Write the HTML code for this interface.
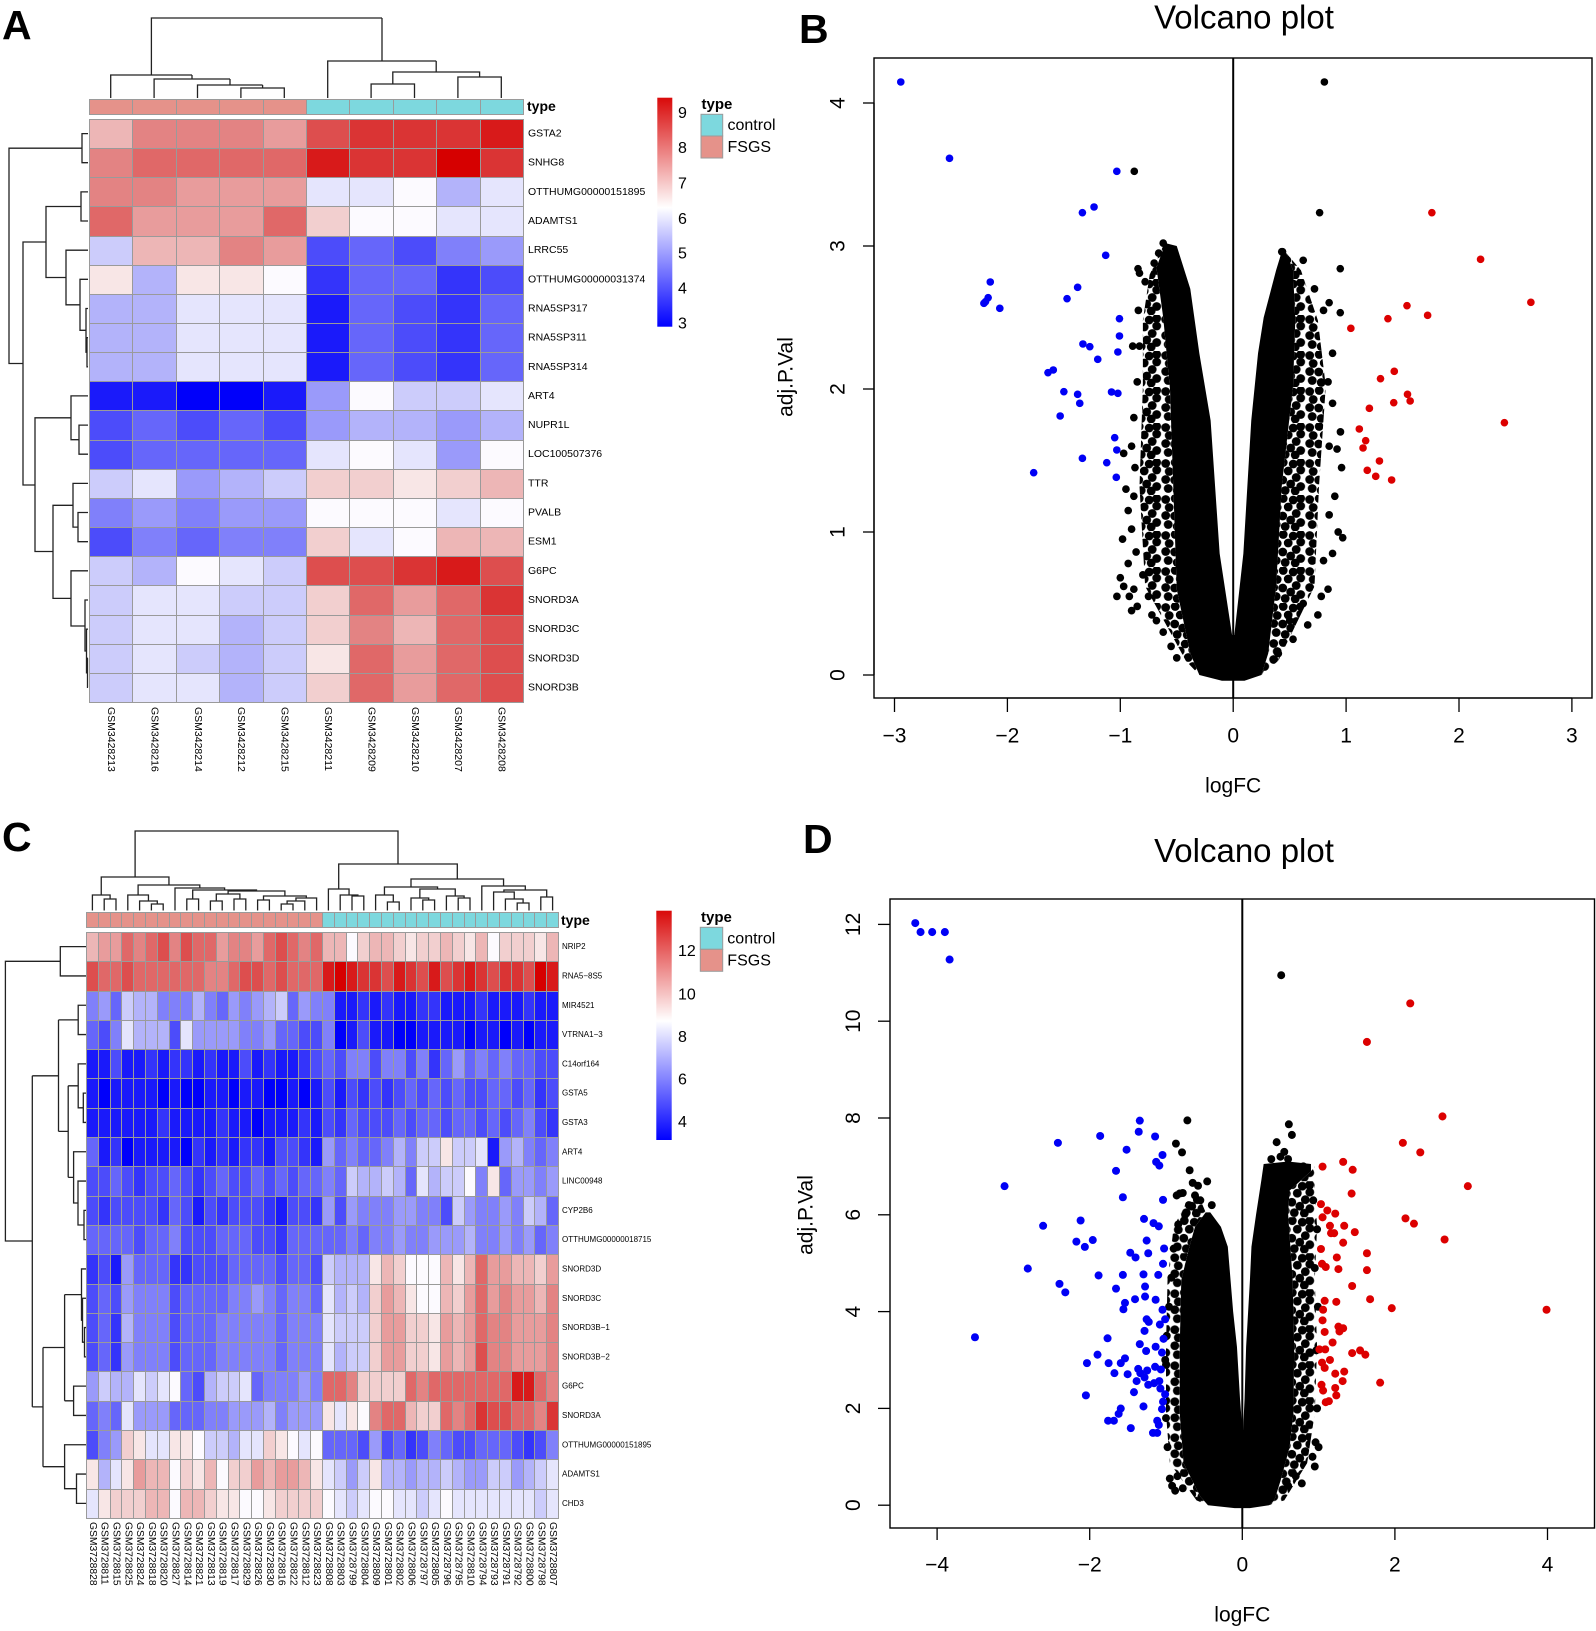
<!DOCTYPE html>
<html><head><meta charset="utf-8">
<style>
html,body{margin:0;padding:0;background:#fff;}
body{position:relative;width:1596px;height:1631px;overflow:hidden;}
svg{display:block;position:absolute;left:0;top:0;font-family:"Liberation Sans",Arial,sans-serif;}
.hm{position:absolute;display:grid;gap:1px;background:#9a9a9a;border:1px solid #9a9a9a;box-sizing:border-box;}
.hm hr{margin:0;border:0;padding:0;height:auto;width:auto;display:block;background:#fff;position:static;}
.hm [class="0"]{background:#0000fa}.hm [class="1"]{background:#1a1afa}.hm [class="2"]{background:#3434fa}
.hm [class="3"]{background:#4c4cfa}.hm [class="4"]{background:#6666fa}.hm [class="5"]{background:#8080fa}
.hm [class="6"]{background:#9a9afa}.hm [class="7"]{background:#b3b3fa}.hm [class="8"]{background:#ccccfb}
.hm [class="9"]{background:#e5e5fd}.hm [class="w"]{background:#fcfaff}.hm [class="a"]{background:#f8e6e6}
.hm [class="b"]{background:#f2cfcf}.hm [class="c"]{background:#edb6b6}.hm [class="d"]{background:#e89c9c}
.hm [class="e"]{background:#e38383}.hm [class="f"]{background:#e06868}.hm [class="g"]{background:#dd4e4e}
.hm [class="h"]{background:#da3434}.hm [class="i"]{background:#d81a1a}.hm [class="j"]{background:#d60000}
.hm [class="s"]{background:#e5928a}.hm [class="t"]{background:#7dd8de}
</style></head><body>
<svg width="1596" height="1631" viewBox="0 0 1596 1631" xmlns="http://www.w3.org/2000/svg">
<defs>
<linearGradient id="gb" x1="0" y1="0" x2="0" y2="1">
<stop offset="0" stop-color="#d90a0a"/><stop offset="0.48" stop-color="#ffffff"/><stop offset="1" stop-color="#0000ff"/>
</linearGradient>
<g id="tile" fill="#000"><circle cx="4.5" cy="4.5" r="4.4"/><circle cx="14" cy="3.5" r="4.4"/><circle cx="24" cy="5" r="4.4"/><circle cx="31.5" cy="11" r="4.4"/><circle cx="8" cy="12.5" r="4.4"/><circle cx="19" cy="12" r="4.4"/><circle cx="27" cy="18.5" r="4.4"/><circle cx="4.5" cy="20.5" r="4.4"/><circle cx="13.5" cy="21" r="4.4"/><circle cx="21.5" cy="25" r="4.4"/><circle cx="31.5" cy="27.5" r="4.4"/><circle cx="7" cy="29.5" r="4.4"/><circle cx="16" cy="31.5" r="4.4"/><circle cx="26" cy="32" r="4.4"/><circle cx="31.5" cy="3.5" r="4.4"/></g>
<pattern id="pB" patternUnits="userSpaceOnUse" width="36" height="36" patternTransform="scale(0.0088574,-0.0069930)">
<use href="#tile"/>
</pattern>
<pattern id="pD" patternUnits="userSpaceOnUse" width="36" height="36" patternTransform="scale(0.0131062,-0.0206612)">
<use href="#tile"/>
</pattern>
</defs>
<rect width="1596" height="1631" fill="#fff"/>

<g font-weight="bold" font-size="41" fill="#000">
<text x="2" y="39">A</text>
<text x="799" y="43">B</text>
<text x="2" y="851">C</text>
<text x="803" y="853">D</text>
</g>

<!-- ============ PANEL A ============ -->
<g fill="none" stroke="#222" stroke-width="1.3">
<path d="M240.9 98V88H284.3V98M262.6 88V85M197.5 98V85H262.6M230 85V79M154.1 98V79H230M192 79V75M110.7 98V75H192M151.4 75V18H382M371.1 98V84H414.5V98M392.8 84V72H479.6V77M457.9 98V77H501.3V98M436.2 72V61M327.7 98V61H436.2M382 61V18"/>
<path d="M88 133.6H82V162.7H88M82 148.2H9V363.5H23M88 191.9H81V221H88M81 206.5H46V277.5H66M88 250.2H66V304.8H80M88 279.3H80V330.3H86M88 308.5H86V352.2H87M88 337.6H87V366.8H88M46 242H23V485H35M71 417.8H35V551.5H53M88 395.9H71V439.7H79M88 425.1H79V454.2H88M73 505.3H53V598.4H71M88 483.4H73V527.1H78M88 512.5H78V541.7H88M88 570.8H71V626H85M88 600H85V651H86.5M88 629.1H86.5V672.9H87.5M88 658.3H87.5V687.4H88"/>
</g>
<text x="527" y="111" font-size="14" font-weight="bold">type</text>
<g font-size="10.5" dominant-baseline="central">
<text x="528" y="133.6">GSTA2</text>
<text x="528" y="162.7">SNHG8</text>
<text x="528" y="191.9">OTTHUMG00000151895</text>
<text x="528" y="221">ADAMTS1</text>
<text x="528" y="250.2">LRRC55</text>
<text x="528" y="279.3">OTTHUMG00000031374</text>
<text x="528" y="308.5">RNA5SP317</text>
<text x="528" y="337.6">RNA5SP311</text>
<text x="528" y="366.8">RNA5SP314</text>
<text x="528" y="395.9">ART4</text>
<text x="528" y="425.1">NUPR1L</text>
<text x="528" y="454.2">LOC100507376</text>
<text x="528" y="483.4">TTR</text>
<text x="528" y="512.5">PVALB</text>
<text x="528" y="541.7">ESM1</text>
<text x="528" y="570.8">G6PC</text>
<text x="528" y="600">SNORD3A</text>
<text x="528" y="629.1">SNORD3C</text>
<text x="528" y="658.3">SNORD3D</text>
<text x="528" y="687.4">SNORD3B</text>
</g>
<g font-size="10.5" dominant-baseline="central">
<text transform="translate(111,707) rotate(90)">GSM3428213</text>
<text transform="translate(154.4,707) rotate(90)">GSM3428216</text>
<text transform="translate(197.8,707) rotate(90)">GSM3428214</text>
<text transform="translate(241.2,707) rotate(90)">GSM3428212</text>
<text transform="translate(284.6,707) rotate(90)">GSM3428215</text>
<text transform="translate(328,707) rotate(90)">GSM3428211</text>
<text transform="translate(371.4,707) rotate(90)">GSM3428209</text>
<text transform="translate(414.8,707) rotate(90)">GSM3428210</text>
<text transform="translate(458.2,707) rotate(90)">GSM3428207</text>
<text transform="translate(501.6,707) rotate(90)">GSM3428208</text>
</g>
<rect x="657.3" y="97.7" width="15" height="229" fill="url(#gb)"/>
<g font-size="16" dominant-baseline="central">
<text x="678" y="113.3">9</text><text x="678" y="148.3">8</text><text x="678" y="184">7</text>
<text x="678" y="219.3">6</text><text x="678" y="254">5</text><text x="678" y="289">4</text><text x="678" y="324">3</text>
</g>
<text x="701.5" y="109" font-size="15" font-weight="bold">type</text>
<rect x="701" y="114.3" width="21.7" height="21.7" fill="#7dd8de" stroke="#9a9a9a"/>
<rect x="701" y="136" width="21.7" height="22" fill="#e5928a" stroke="#9a9a9a"/>
<g font-size="16" dominant-baseline="central">
<text x="727.5" y="125.5">control</text>
<text x="727.5" y="147.5">FSGS</text>
</g>

<!-- ============ PANEL B ============ -->
<text x="1244" y="28.5" font-size="33" text-anchor="middle">Volcano plot</text>
<g transform="matrix(112.9,0,0,-143,1233.2,675)" fill="#000">
<polygon fill="url(#pB)" points="-0.3,0 -0.42,0.1 -0.78,0.62 -0.83,1.32 -0.8,2.02 -0.8,2.48 -0.74,2.8 -0.62,3.0 -0.6,3.0 -0.68,2.85 -0.62,2.5 -0.56,2.0 -0.53,1.3 -0.5,0.6 -0.38,0.15 -0.3,0"/>
<polygon fill="url(#pB)" points="0.25,0 0.4,0.1 0.72,0.62 0.76,1.32 0.82,2.02 0.75,2.48 0.6,2.83 0.47,2.95 0.53,2.83 0.55,2.48 0.53,2.02 0.43,1.32 0.38,0.62 0.31,0.15 0.25,0"/>
<polygon points="-0.3,0 -0.38,0.15 -0.5,0.6 -0.53,1.3 -0.56,2.0 -0.62,2.5 -0.68,2.85 -0.6,3.02 -0.5,3.0 -0.38,2.7 -0.3,2.25 -0.2,1.78 -0.12,0.85 -0.01,0.28 0.01,0.28 0.09,0.85 0.16,1.78 0.22,2.25 0.27,2.5 0.38,2.83 0.43,2.96 0.47,2.95 0.53,2.83 0.55,2.48 0.53,2.02 0.43,1.32 0.38,0.62 0.31,0.15 0.25,0 0.1,-0.04 -0.1,-0.04"/>
<g>
<ellipse cx="-0.97" cy="0.62" rx=".034" ry=".027"/><ellipse cx="-0.92" cy="0.55" rx=".034" ry=".027"/><ellipse cx="-0.88" cy="0.60" rx=".034" ry=".027"/><ellipse cx="-0.85" cy="0.48" rx=".034" ry=".027"/><ellipse cx="-0.80" cy="0.70" rx=".034" ry=".027"/><ellipse cx="-0.75" cy="0.55" rx=".034" ry=".027"/><ellipse cx="-0.72" cy="0.42" rx=".034" ry=".027"/><ellipse cx="-0.68" cy="0.38" rx=".034" ry=".027"/><ellipse cx="-0.93" cy="0.78" rx=".034" ry=".027"/><ellipse cx="-0.86" cy="0.86" rx=".034" ry=".027"/><ellipse cx="-0.98" cy="0.95" rx=".034" ry=".027"/><ellipse cx="-0.90" cy="1.02" rx=".034" ry=".027"/><ellipse cx="-0.95" cy="1.30" rx=".034" ry=".027"/><ellipse cx="-0.88" cy="1.25" rx=".034" ry=".027"/><ellipse cx="-0.97" cy="1.55" rx=".034" ry=".027"/><ellipse cx="-0.90" cy="1.60" rx=".034" ry=".027"/><ellipse cx="-0.88" cy="1.80" rx=".034" ry=".027"/><ellipse cx="-0.85" cy="2.05" rx=".034" ry=".027"/><ellipse cx="-0.83" cy="2.30" rx=".034" ry=".027"/><ellipse cx="-0.84" cy="2.55" rx=".034" ry=".027"/><ellipse cx="-0.78" cy="2.75" rx=".034" ry=".027"/><ellipse cx="-0.62" cy="0.30" rx=".034" ry=".027"/><ellipse cx="-0.55" cy="0.20" rx=".034" ry=".027"/><ellipse cx="-0.50" cy="0.12" rx=".034" ry=".027"/><ellipse cx="-1.0" cy="0.68" rx=".034" ry=".027"/><ellipse cx="-0.93" cy="1.15" rx=".034" ry=".027"/><ellipse cx="-0.87" cy="1.45" rx=".034" ry=".027"/><ellipse cx="-0.62" cy="3.02" rx=".034" ry=".027"/><ellipse cx="-0.56" cy="2.98" rx=".034" ry=".027"/><ellipse cx="-0.66" cy="2.95" rx=".034" ry=".027"/><ellipse cx="-0.70" cy="2.88" rx=".034" ry=".027"/><ellipse cx="-0.83" cy="2.81" rx=".034" ry=".027"/><ellipse cx="-0.89" cy="2.3" rx=".034" ry=".027"/><ellipse cx="-1.03" cy="0.55" rx=".034" ry=".027"/><ellipse cx="-0.9" cy="0.45" rx=".034" ry=".027"/>
<ellipse cx="0.50" cy="0.38" rx=".034" ry=".027"/><ellipse cx="0.62" cy="0.50" rx=".034" ry=".027"/><ellipse cx="0.78" cy="0.55" rx=".034" ry=".027"/><ellipse cx="0.84" cy="0.60" rx=".034" ry=".027"/><ellipse cx="0.80" cy="0.80" rx=".034" ry=".027"/><ellipse cx="0.88" cy="0.85" rx=".034" ry=".027"/><ellipse cx="0.85" cy="1.12" rx=".034" ry=".027"/><ellipse cx="0.93" cy="1.00" rx=".034" ry=".027"/><ellipse cx="0.90" cy="1.25" rx=".034" ry=".027"/><ellipse cx="0.96" cy="1.45" rx=".034" ry=".027"/><ellipse cx="0.85" cy="1.60" rx=".034" ry=".027"/><ellipse cx="0.95" cy="1.70" rx=".034" ry=".027"/><ellipse cx="0.88" cy="1.90" rx=".034" ry=".027"/><ellipse cx="0.88" cy="2.25" rx=".034" ry=".027"/><ellipse cx="0.80" cy="2.55" rx=".034" ry=".027"/><ellipse cx="0.72" cy="2.70" rx=".034" ry=".027"/><ellipse cx="0.97" cy="0.96" rx=".034" ry=".027"/><ellipse cx="0.92" cy="1.58" rx=".034" ry=".027"/><ellipse cx="0.53" cy="0.25" rx=".034" ry=".027"/><ellipse cx="0.40" cy="0.15" rx=".034" ry=".027"/><ellipse cx="0.43" cy="2.96" rx=".034" ry=".027"/><ellipse cx="0.48" cy="2.90" rx=".034" ry=".027"/><ellipse cx="0.66" cy="0.35" rx=".034" ry=".027"/><ellipse cx="0.75" cy="0.42" rx=".034" ry=".027"/><ellipse cx="0.84" cy="2.05" rx=".034" ry=".027"/><ellipse cx="0.62" cy="2.9" rx=".034" ry=".027"/>
</g>
</g>
<g transform="translate(770,0) scale(0.52949,0.33333)">
<g fill="#000">
<ellipse cx="688" cy="514" rx="7.2" ry="11.4"/><ellipse cx="1047" cy="246" rx="7.2" ry="11.4"/><ellipse cx="1038" cy="638" rx="7.2" ry="11.4"/><ellipse cx="968" cy="755" rx="7.2" ry="11.4"/><ellipse cx="1077" cy="806" rx="7.2" ry="11.4"/><ellipse cx="695" cy="806" rx="7.2" ry="11.4"/><ellipse cx="1077" cy="938" rx="7.2" ry="11.4"/><ellipse cx="1056" cy="908" rx="7.2" ry="11.4"/>
</g>
<g fill="#0000f5">
<ellipse cx="247" cy="246" rx="7.2" ry="11.4"/><ellipse cx="339" cy="475" rx="7.2" ry="11.4"/><ellipse cx="655" cy="514" rx="7.2" ry="11.4"/><ellipse cx="612" cy="621" rx="7.2" ry="11.4"/><ellipse cx="590" cy="638" rx="7.2" ry="11.4"/><ellipse cx="634" cy="766" rx="7.2" ry="11.4"/><ellipse cx="416" cy="846" rx="7.2" ry="11.4"/><ellipse cx="412" cy="893" rx="7.2" ry="11.4"/><ellipse cx="407" cy="905" rx="7.2" ry="11.4"/><ellipse cx="404" cy="910" rx="7.2" ry="11.4"/><ellipse cx="434" cy="925" rx="7.2" ry="11.4"/><ellipse cx="581" cy="862" rx="7.2" ry="11.4"/><ellipse cx="561" cy="896" rx="7.2" ry="11.4"/><ellipse cx="660" cy="956" rx="7.2" ry="11.4"/><ellipse cx="660" cy="1008" rx="7.2" ry="11.4"/><ellipse cx="591" cy="1032" rx="7.2" ry="11.4"/><ellipse cx="604" cy="1040" rx="7.2" ry="11.4"/><ellipse cx="619" cy="1078" rx="7.2" ry="11.4"/><ellipse cx="657" cy="1056" rx="7.2" ry="11.4"/><ellipse cx="525" cy="1118" rx="7.2" ry="11.4"/><ellipse cx="535" cy="1110" rx="7.2" ry="11.4"/><ellipse cx="555" cy="1175" rx="7.2" ry="11.4"/><ellipse cx="581" cy="1183" rx="7.2" ry="11.4"/><ellipse cx="645" cy="1176" rx="7.2" ry="11.4"/><ellipse cx="657" cy="1180" rx="7.2" ry="11.4"/>
<ellipse cx="585" cy="1210" rx="7.2" ry="11.4"/><ellipse cx="548" cy="1248" rx="7.2" ry="11.4"/><ellipse cx="651" cy="1313" rx="7.2" ry="11.4"/><ellipse cx="655" cy="1350" rx="7.2" ry="11.4"/><ellipse cx="590" cy="1375" rx="7.2" ry="11.4"/><ellipse cx="636" cy="1388" rx="7.2" ry="11.4"/><ellipse cx="654" cy="1432" rx="7.2" ry="11.4"/><ellipse cx="498" cy="1418" rx="7.2" ry="11.4"/>
</g>
<g fill="#dc0000">
<ellipse cx="1250" cy="638" rx="7.2" ry="11.4"/><ellipse cx="1342" cy="778" rx="7.2" ry="11.4"/><ellipse cx="1437" cy="907" rx="7.2" ry="11.4"/><ellipse cx="1203" cy="917" rx="7.2" ry="11.4"/><ellipse cx="1242" cy="946" rx="7.2" ry="11.4"/><ellipse cx="1167" cy="956" rx="7.2" ry="11.4"/><ellipse cx="1097" cy="985" rx="7.2" ry="11.4"/><ellipse cx="1179" cy="1114" rx="7.2" ry="11.4"/><ellipse cx="1153" cy="1136" rx="7.2" ry="11.4"/><ellipse cx="1204" cy="1183" rx="7.2" ry="11.4"/>
<ellipse cx="1209" cy="1203" rx="7.2" ry="11.4"/><ellipse cx="1178" cy="1208" rx="7.2" ry="11.4"/><ellipse cx="1132" cy="1225" rx="7.2" ry="11.4"/><ellipse cx="1387" cy="1268" rx="7.2" ry="11.4"/><ellipse cx="1113" cy="1287" rx="7.2" ry="11.4"/><ellipse cx="1125" cy="1322" rx="7.2" ry="11.4"/><ellipse cx="1120" cy="1344" rx="7.2" ry="11.4"/><ellipse cx="1151" cy="1383" rx="7.2" ry="11.4"/><ellipse cx="1128" cy="1411" rx="7.2" ry="11.4"/><ellipse cx="1144" cy="1429" rx="7.2" ry="11.4"/><ellipse cx="1174" cy="1440" rx="7.2" ry="11.4"/>
</g>
</g>
<line x1="1233.2" y1="58" x2="1233.2" y2="698" stroke="#000" stroke-width="2"/>
<rect x="874" y="58" width="718" height="640" fill="none" stroke="#000" stroke-width="1.4"/>
<g stroke="#000" stroke-width="1.3">
<line x1="894.5" y1="698" x2="1571.9" y2="698"/>
<line x1="894.5" y1="698" x2="894.5" y2="712"/><line x1="1007.4" y1="698" x2="1007.4" y2="712"/>
<line x1="1120.3" y1="698" x2="1120.3" y2="712"/><line x1="1233.2" y1="698" x2="1233.2" y2="712"/>
<line x1="1346.1" y1="698" x2="1346.1" y2="712"/><line x1="1459" y1="698" x2="1459" y2="712"/>
<line x1="1571.9" y1="698" x2="1571.9" y2="712"/>
<line x1="874" y1="103" x2="874" y2="675"/>
<line x1="863" y1="675" x2="874" y2="675"/><line x1="863" y1="532" x2="874" y2="532"/>
<line x1="863" y1="389" x2="874" y2="389"/><line x1="863" y1="246" x2="874" y2="246"/>
<line x1="863" y1="103" x2="874" y2="103"/>
</g>
<g font-size="21" text-anchor="middle" dominant-baseline="central">
<text x="894.5" y="736">−3</text><text x="1007.4" y="736">−2</text><text x="1120.3" y="736">−1</text>
<text x="1233.2" y="736">0</text><text x="1346.1" y="736">1</text><text x="1459" y="736">2</text><text x="1571.9" y="736">3</text>
<text transform="translate(838,675) rotate(-90)">0</text>
<text transform="translate(838,532) rotate(-90)">1</text>
<text transform="translate(838,389) rotate(-90)">2</text>
<text transform="translate(838,246) rotate(-90)">3</text>
<text transform="translate(838,103) rotate(-90)">4</text>
<text x="1233.2" y="786">logFC</text>
<text transform="translate(786,377) rotate(-90)">adj.P.Val</text>
</g>

<!-- ============ PANEL C ============ -->
<g fill="none" stroke="#222" stroke-width="1.3">
<path d="M104.2 910.5V899H116V910.5M92.4 910.5V895H110.1V899M151.4 910.5V904H163.2V910.5M139.6 910.5V901H157.3V904M127.8 910.5V895H148.45V901M186.8 910.5V899H198.6V910.5M210.4 910.5V901H222.2V910.5M234 910.5V899H245.8V910.5M216.3 901V894H239.9V899M257.6 910.5V900H269.4V910.5M281.2 910.5V904H293V910.5M287.1 904V901H304.8V910.5M295.95 901V898H316.6V910.5M263.5 900V896H306.3V898M228.1 894V891H284.9V896M192.7 899V890H256.5V891M175 910.5V888H224.6V890M138.1 895V885H199.8V888M101.25 895V877H168.95V885"/>
<path d="M352 910.5V896H363.8V910.5M340.2 910.5V895H357.9V896M328.4 910.5V889H349.05V895M387.4 910.5V902H399.2V910.5M375.6 910.5V895H393.3V902M422.8 910.5V900H434.6V910.5M411 910.5V898H428.7V900M458.2 910.5V898H470V910.5M446.4 910.5V896H464.1V898M419.85 898V889H455.25V896M384.45 895V887H437.55V889M517.2 910.5V903H529V910.5M505.4 910.5V899H523.1V903M493.6 910.5V892H514.25V899M540.8 910.5V897H552.6V910.5M503.9 892V890H546.7V897M481.8 910.5V886H525.3V890M411 887V879H503.55V886M338.7 889V864H457.3V879M135.1 877V831H398V864"/>
<path d="M86 946.65H60.3V975.95H86M60.3 961.3H5.4V1241H32.3M32.3 1075.8V1406.9M32.3 1075.8H58.5M58.5 1019.9V1131.4M86 1005.25H78.2V1034.55H86M78.2 1019.9H58.5M68.2 1131.4H58.5M68.2 1085.8V1177.4M86 1063.85H78.2V1107.8H83.3M86 1093.15H83.3V1122.45H86M78.2 1085.8H68.2M86 1151.75H73.6V1203H78M86 1181.05H78V1225H84M86 1210.35H84V1239.65H86M73.6 1177.4H68.2M43 1406.9H32.3M43 1347.5V1466.7M64.6 1347.5H43M64.6 1294.6V1400.8M86 1268.95H81.5V1320.2H82.5M86 1298.25H82.5V1342.2H84.5M86 1327.55H84.5V1356.85H86M81.5 1294.6H64.6M86 1386.15H73.6V1415.45H86M73.6 1400.8H64.6M86 1444.75H64.6V1488.7H76.5M86 1474.05H76.5V1503.35H86M64.6 1466.7H43"/>
</g>
<text x="561" y="925" font-size="14" font-weight="bold">type</text>
<g font-size="8" dominant-baseline="central">
<text x="562" y="946.65">NRIP2</text>
<text x="562" y="975.95">RNA5−8S5</text>
<text x="562" y="1005.25">MIR4521</text>
<text x="562" y="1034.55">VTRNA1−3</text>
<text x="562" y="1063.85">C14orf164</text>
<text x="562" y="1093.15">GSTA5</text>
<text x="562" y="1122.45">GSTA3</text>
<text x="562" y="1151.75">ART4</text>
<text x="562" y="1181.05">LINC00948</text>
<text x="562" y="1210.35">CYP2B6</text>
<text x="562" y="1239.65">OTTHUMG00000018715</text>
<text x="562" y="1268.95">SNORD3D</text>
<text x="562" y="1298.25">SNORD3C</text>
<text x="562" y="1327.55">SNORD3B−1</text>
<text x="562" y="1356.85">SNORD3B−2</text>
<text x="562" y="1386.15">G6PC</text>
<text x="562" y="1415.45">SNORD3A</text>
<text x="562" y="1444.75">OTTHUMG00000151895</text>
<text x="562" y="1474.05">ADAMTS1</text>
<text x="562" y="1503.35">CHD3</text>
</g>
<g font-size="10.3" dominant-baseline="central">
<text transform="translate(92.4,1522) rotate(90)">GSM3728828</text>
<text transform="translate(104.2,1522) rotate(90)">GSM3728811</text>
<text transform="translate(116,1522) rotate(90)">GSM3728815</text>
<text transform="translate(127.8,1522) rotate(90)">GSM3728825</text>
<text transform="translate(139.6,1522) rotate(90)">GSM3728824</text>
<text transform="translate(151.4,1522) rotate(90)">GSM3728818</text>
<text transform="translate(163.2,1522) rotate(90)">GSM3728820</text>
<text transform="translate(175,1522) rotate(90)">GSM3728827</text>
<text transform="translate(186.8,1522) rotate(90)">GSM3728814</text>
<text transform="translate(198.6,1522) rotate(90)">GSM3728821</text>
<text transform="translate(210.4,1522) rotate(90)">GSM3728813</text>
<text transform="translate(222.2,1522) rotate(90)">GSM3728819</text>
<text transform="translate(234,1522) rotate(90)">GSM3728817</text>
<text transform="translate(245.8,1522) rotate(90)">GSM3728829</text>
<text transform="translate(257.6,1522) rotate(90)">GSM3728826</text>
<text transform="translate(269.4,1522) rotate(90)">GSM3728830</text>
<text transform="translate(281.2,1522) rotate(90)">GSM3728816</text>
<text transform="translate(293,1522) rotate(90)">GSM3728822</text>
<text transform="translate(304.8,1522) rotate(90)">GSM3728812</text>
<text transform="translate(316.6,1522) rotate(90)">GSM3728823</text>
<text transform="translate(328.4,1522) rotate(90)">GSM3728808</text>
<text transform="translate(340.2,1522) rotate(90)">GSM3728803</text>
<text transform="translate(352,1522) rotate(90)">GSM3728799</text>
<text transform="translate(363.8,1522) rotate(90)">GSM3728804</text>
<text transform="translate(375.6,1522) rotate(90)">GSM3728809</text>
<text transform="translate(387.4,1522) rotate(90)">GSM3728801</text>
<text transform="translate(399.2,1522) rotate(90)">GSM3728802</text>
<text transform="translate(411,1522) rotate(90)">GSM3728806</text>
<text transform="translate(422.8,1522) rotate(90)">GSM3728797</text>
<text transform="translate(434.6,1522) rotate(90)">GSM3728805</text>
<text transform="translate(446.4,1522) rotate(90)">GSM3728796</text>
<text transform="translate(458.2,1522) rotate(90)">GSM3728795</text>
<text transform="translate(470,1522) rotate(90)">GSM3728810</text>
<text transform="translate(481.8,1522) rotate(90)">GSM3728794</text>
<text transform="translate(493.6,1522) rotate(90)">GSM3728793</text>
<text transform="translate(505.4,1522) rotate(90)">GSM3728791</text>
<text transform="translate(517.2,1522) rotate(90)">GSM3728792</text>
<text transform="translate(529,1522) rotate(90)">GSM3728800</text>
<text transform="translate(540.8,1522) rotate(90)">GSM3728798</text>
<text transform="translate(552.6,1522) rotate(90)">GSM3728807</text>
</g>
<rect x="656.3" y="910.7" width="15.4" height="229.3" fill="url(#gb)"/>
<g font-size="16" dominant-baseline="central">
<text x="678" y="951.7">12</text><text x="678" y="995">10</text><text x="678" y="1037.3">8</text>
<text x="678" y="1080">6</text><text x="678" y="1122.7">4</text>
</g>
<text x="701" y="922" font-size="15" font-weight="bold">type</text>
<rect x="700.3" y="927.3" width="22.4" height="22" fill="#7dd8de" stroke="#9a9a9a"/>
<rect x="700.3" y="949.3" width="22.4" height="22" fill="#e5928a" stroke="#9a9a9a"/>
<g font-size="16" dominant-baseline="central">
<text x="727.3" y="939">control</text>
<text x="727.3" y="961">FSGS</text>
</g>

<!-- ============ PANEL D ============ -->
<text x="1244" y="862" font-size="33" text-anchor="middle">Volcano plot</text>
<g transform="matrix(76.3,0,0,-48.4,1242.3,1505.2)" fill="#000">
<polygon fill="url(#pD)" points="-0.45,0 -0.6,0.1 -0.95,0.87 -1.0,1.9 -1.0,3.27 -0.98,4.65 -0.9,5.75 -0.75,6.2 -0.6,6.5 -0.48,6.05 -0.62,5.75 -0.7,5.3 -0.8,4.65 -0.82,3.27 -0.82,1.9 -0.77,0.87 -0.55,0.18 -0.45,0"/>
<polygon fill="url(#pD)" points="0.35,0 0.55,0.1 0.85,0.87 0.95,1.9 0.98,3.27 0.95,4.65 0.98,5.75 0.95,6.5 0.95,7.0 0.9,6.9 0.62,6.5 0.6,6.03 0.66,4.65 0.68,3.27 0.67,1.9 0.62,1.2 0.5,0.5 0.42,0.1 0.35,0"/>
<polygon points="-0.45,0 -0.55,0.18 -0.77,0.87 -0.82,1.9 -0.82,3.27 -0.8,4.65 -0.7,5.3 -0.62,5.75 -0.48,6.05 -0.42,6.05 -0.28,5.75 -0.19,5.34 -0.12,4.0 -0.07,3.27 -0.03,2.2 0,1.55 0.01,1.55 0.03,2.2 0.05,3.27 0.1,4.65 0.12,5.34 0.18,6.0 0.25,6.72 0.28,7.05 0.6,7.1 0.9,7.05 0.9,6.9 0.62,6.5 0.6,6.03 0.66,4.65 0.68,3.27 0.67,1.9 0.62,1.2 0.5,0.5 0.42,0.1 0.35,0 0.1,-0.06 -0.1,-0.06"/>
<g>
<ellipse cx="-0.92" cy="0.4" rx=".052" ry=".083"/><ellipse cx="-0.85" cy="0.6" rx=".052" ry=".083"/><ellipse cx="-0.78" cy="0.35" rx=".052" ry=".083"/><ellipse cx="-0.98" cy="1.2" rx=".052" ry=".083"/><ellipse cx="-1.0" cy="1.8" rx=".052" ry=".083"/><ellipse cx="-1.0" cy="2.9" rx=".052" ry=".083"/><ellipse cx="-0.99" cy="3.5" rx=".052" ry=".083"/><ellipse cx="-0.96" cy="4.1" rx=".052" ry=".083"/><ellipse cx="-0.93" cy="4.7" rx=".052" ry=".083"/><ellipse cx="-0.9" cy="5.3" rx=".052" ry=".083"/><ellipse cx="-0.84" cy="5.8" rx=".052" ry=".083"/><ellipse cx="-0.75" cy="6.0" rx=".052" ry=".083"/><ellipse cx="-0.7" cy="6.2" rx=".052" ry=".083"/><ellipse cx="-0.62" cy="6.4" rx=".052" ry=".083"/><ellipse cx="-0.58" cy="6.6" rx=".052" ry=".083"/><ellipse cx="-1.01" cy="3.0" rx=".052" ry=".083"/><ellipse cx="-0.78" cy="6.45" rx=".052" ry=".083"/><ellipse cx="-0.86" cy="6.4" rx=".052" ry=".083"/><ellipse cx="-0.72" cy="7.95" rx=".052" ry=".083"/><ellipse cx="-0.87" cy="7.47" rx=".052" ry=".083"/><ellipse cx="-0.79" cy="7.29" rx=".052" ry=".083"/><ellipse cx="-0.69" cy="6.92" rx=".052" ry=".083"/><ellipse cx="-0.65" cy="6.66" rx=".052" ry=".083"/><ellipse cx="-0.46" cy="6.69" rx=".052" ry=".083"/><ellipse cx="-0.82" cy="6.44" rx=".052" ry=".083"/><ellipse cx="-0.55" cy="6.3" rx=".052" ry=".083"/><ellipse cx="-0.4" cy="6.2" rx=".052" ry=".083"/><ellipse cx="-0.95" cy="0.55" rx=".052" ry=".083"/><ellipse cx="-0.88" cy="0.3" rx=".052" ry=".083"/>
<ellipse cx="0.6" cy="0.4" rx=".052" ry=".083"/><ellipse cx="0.7" cy="0.6" rx=".052" ry=".083"/><ellipse cx="0.78" cy="0.45" rx=".052" ry=".083"/><ellipse cx="0.92" cy="1.0" rx=".052" ry=".083"/><ellipse cx="0.96" cy="1.3" rx=".052" ry=".083"/><ellipse cx="0.98" cy="2.0" rx=".052" ry=".083"/><ellipse cx="0.97" cy="3.2" rx=".052" ry=".083"/><ellipse cx="0.99" cy="4.1" rx=".052" ry=".083"/><ellipse cx="0.95" cy="4.9" rx=".052" ry=".083"/><ellipse cx="0.98" cy="5.7" rx=".052" ry=".083"/><ellipse cx="0.93" cy="6.3" rx=".052" ry=".083"/><ellipse cx="0.88" cy="6.6" rx=".052" ry=".083"/><ellipse cx="0.8" cy="7.0" rx=".052" ry=".083"/><ellipse cx="0.6" cy="7.15" rx=".052" ry=".083"/><ellipse cx="0.55" cy="7.3" rx=".052" ry=".083"/><ellipse cx="0.45" cy="7.5" rx=".052" ry=".083"/><ellipse cx="0.61" cy="7.87" rx=".052" ry=".083"/><ellipse cx="0.65" cy="7.65" rx=".052" ry=".083"/><ellipse cx="0.5" cy="7.2" rx=".052" ry=".083"/><ellipse cx="0.38" cy="7.15" rx=".052" ry=".083"/><ellipse cx="0.51" cy="10.95" rx=".052" ry=".083"/><ellipse cx="1.0" cy="1.2" rx=".052" ry=".083"/><ellipse cx="0.95" cy="0.8" rx=".052" ry=".083"/>
</g>
</g>
<g transform="translate(770,800) scale(0.52826)">
<g fill="#0000f5">
<circle cx="275" cy="233" r="7.6"/><circle cx="285" cy="250" r="7.6"/><circle cx="307" cy="250" r="7.6"/><circle cx="331" cy="250" r="7.6"/><circle cx="340" cy="302" r="7.6"/><circle cx="444" cy="731" r="7.6"/><circle cx="388" cy="1017" r="7.6"/><circle cx="545" cy="649" r="7.6"/><circle cx="517" cy="806" r="7.6"/><circle cx="488" cy="887" r="7.6"/><circle cx="548" cy="916" r="7.6"/><circle cx="559" cy="932" r="7.6"/><circle cx="588" cy="796" r="7.6"/><circle cx="580" cy="836" r="7.6"/><circle cx="596" cy="846" r="7.6"/><circle cx="611" cy="833" r="7.6"/><circle cx="625" cy="636" r="7.6"/><circle cx="622" cy="900" r="7.6"/><circle cx="655" cy="702" r="7.6"/><circle cx="675" cy="662" r="7.6"/><circle cx="668" cy="752" r="7.6"/><circle cx="682" cy="857" r="7.6"/><circle cx="692" cy="866" r="7.6"/><circle cx="668" cy="899" r="7.6"/><circle cx="655" cy="925" r="7.6"/><circle cx="672" cy="952" r="7.6"/><circle cx="669" cy="964" r="7.6"/><circle cx="691" cy="945" r="7.6"/><circle cx="700" cy="607" r="7.6"/><circle cx="698" cy="628" r="7.6"/><circle cx="729" cy="637" r="7.6"/><circle cx="743" cy="672" r="7.6"/><circle cx="731" cy="685" r="7.6"/><circle cx="737" cy="692" r="7.6"/><circle cx="744" cy="757" r="7.6"/><circle cx="708" cy="793" r="7.6"/><circle cx="726" cy="801" r="7.6"/><circle cx="736" cy="807" r="7.6"/><circle cx="713" cy="834" r="7.6"/><circle cx="746" cy="849" r="7.6"/><circle cx="744" cy="878" r="7.6"/><circle cx="716" cy="858" r="7.6"/><circle cx="707" cy="898" r="7.6"/><circle cx="735" cy="899" r="7.6"/><circle cx="710" cy="921" r="7.6"/><circle cx="710" cy="940" r="7.6"/><circle cx="730" cy="946" r="7.6"/><circle cx="743" cy="965" r="7.6"/><circle cx="748" cy="983" r="7.6"/><circle cx="713" cy="983" r="7.6"/><circle cx="717" cy="988" r="7.6"/><circle cx="709" cy="1005" r="7.6"/><circle cx="738" cy="993" r="7.6"/><circle cx="745" cy="1020" r="7.6"/><circle cx="730" cy="1035" r="7.6"/><circle cx="700" cy="1030" r="7.6"/><circle cx="712" cy="1043" r="7.6"/><circle cx="742" cy="1046" r="7.6"/><circle cx="639" cy="1019" r="7.6"/><circle cx="620" cy="1050" r="7.6"/><circle cx="641" cy="1066" r="7.6"/><circle cx="600" cy="1066" r="7.6"/><circle cx="664" cy="1066" r="7.6"/><circle cx="672" cy="1057" r="7.6"/><circle cx="652" cy="1085" r="7.6"/><circle cx="677" cy="1087" r="7.6"/><circle cx="697" cy="1077" r="7.6"/><circle cx="714" cy="1080" r="7.6"/><circle cx="701" cy="1085" r="7.6"/><circle cx="729" cy="1073" r="7.6"/><circle cx="740" cy="1078" r="7.6"/><circle cx="709" cy="1093" r="7.6"/><circle cx="694" cy="1100" r="7.6"/><circle cx="716" cy="1107" r="7.6"/><circle cx="727" cy="1104" r="7.6"/><circle cx="737" cy="1100" r="7.6"/><circle cx="739" cy="1114" r="7.6"/><circle cx="689" cy="1121" r="7.6"/><circle cx="748" cy="1125" r="7.6"/><circle cx="744" cy="1139" r="7.6"/><circle cx="598" cy="1127" r="7.6"/><circle cx="707" cy="1148" r="7.6"/><circle cx="742" cy="1153" r="7.6"/><circle cx="733" cy="1175" r="7.6"/><circle cx="664" cy="1152" r="7.6"/><circle cx="660" cy="1162" r="7.6"/><circle cx="640" cy="1175" r="7.6"/><circle cx="651" cy="1175" r="7.6"/><circle cx="683" cy="1189" r="7.6"/><circle cx="725" cy="1198" r="7.6"/><circle cx="733" cy="1198" r="7.6"/><circle cx="736" cy="1183" r="7.6"/>
</g>
<g fill="#dc0000">
<circle cx="1212" cy="385" r="7.6"/><circle cx="1130" cy="458" r="7.6"/><circle cx="1273" cy="599" r="7.6"/><circle cx="1198" cy="649" r="7.6"/><circle cx="1231" cy="667" r="7.6"/><circle cx="1085" cy="685" r="7.6"/><circle cx="1103" cy="700" r="7.6"/><circle cx="1046" cy="694" r="7.6"/><circle cx="1321" cy="731" r="7.6"/><circle cx="1101" cy="745" r="7.6"/><circle cx="1043" cy="765" r="7.6"/><circle cx="1055" cy="777" r="7.6"/><circle cx="1070" cy="783" r="7.6"/><circle cx="1046" cy="790" r="7.6"/><circle cx="1203" cy="792" r="7.6"/><circle cx="1219" cy="802" r="7.6"/><circle cx="1277" cy="832" r="7.6"/><circle cx="1060" cy="806" r="7.6"/><circle cx="1087" cy="806" r="7.6"/><circle cx="1062" cy="820" r="7.6"/><circle cx="1107" cy="818" r="7.6"/><circle cx="1085" cy="838" r="7.6"/><circle cx="1068" cy="820" r="7.6"/><circle cx="1043" cy="850" r="7.6"/><circle cx="1130" cy="858" r="7.6"/><circle cx="1073" cy="866" r="7.6"/><circle cx="1045" cy="878" r="7.6"/><circle cx="1052" cy="884" r="7.6"/><circle cx="1076" cy="888" r="7.6"/><circle cx="1130" cy="890" r="7.6"/><circle cx="1102" cy="920" r="7.6"/><circle cx="1050" cy="948" r="7.6"/><circle cx="1047" cy="965" r="7.6"/><circle cx="1072" cy="950" r="7.6"/><circle cx="1136" cy="945" r="7.6"/><circle cx="1177" cy="962" r="7.6"/><circle cx="1470" cy="965" r="7.6"/><circle cx="1046" cy="985" r="7.6"/><circle cx="1050" cy="1007" r="7.6"/><circle cx="1076" cy="997" r="7.6"/><circle cx="1085" cy="1000" r="7.6"/><circle cx="1078" cy="1006" r="7.6"/><circle cx="1065" cy="1027" r="7.6"/><circle cx="1051" cy="1040" r="7.6"/><circle cx="1040" cy="1040" r="7.6"/><circle cx="1102" cy="1047" r="7.6"/><circle cx="1117" cy="1042" r="7.6"/><circle cx="1127" cy="1050" r="7.6"/><circle cx="1060" cy="1060" r="7.6"/><circle cx="1045" cy="1065" r="7.6"/><circle cx="1050" cy="1075" r="7.6"/><circle cx="1070" cy="1086" r="7.6"/><circle cx="1087" cy="1082" r="7.6"/><circle cx="1084" cy="1100" r="7.6"/><circle cx="1044" cy="1107" r="7.6"/><circle cx="1047" cy="1118" r="7.6"/><circle cx="1070" cy="1113" r="7.6"/><circle cx="1072" cy="1127" r="7.6"/><circle cx="1058" cy="1138" r="7.6"/><circle cx="1052" cy="1140" r="7.6"/><circle cx="1155" cy="1103" r="7.6"/>
</g>
</g>
<line x1="1242.3" y1="899" x2="1242.3" y2="1528" stroke="#000" stroke-width="2"/>
<rect x="890" y="899" width="704.5" height="629" fill="none" stroke="#000" stroke-width="1.4"/>
<g stroke="#000" stroke-width="1.3">
<line x1="937.1" y1="1528" x2="937.1" y2="1540"/><line x1="1089.7" y1="1528" x2="1089.7" y2="1540"/>
<line x1="1242.3" y1="1528" x2="1242.3" y2="1540"/><line x1="1394.9" y1="1528" x2="1394.9" y2="1540"/>
<line x1="1547.5" y1="1528" x2="1547.5" y2="1540"/>
<line x1="878" y1="1505.2" x2="890" y2="1505.2"/><line x1="878" y1="1408.4" x2="890" y2="1408.4"/>
<line x1="878" y1="1311.6" x2="890" y2="1311.6"/><line x1="878" y1="1214.8" x2="890" y2="1214.8"/>
<line x1="878" y1="1118" x2="890" y2="1118"/><line x1="878" y1="1021.2" x2="890" y2="1021.2"/>
<line x1="878" y1="924.4" x2="890" y2="924.4"/>
</g>
<g font-size="21" text-anchor="middle" dominant-baseline="central">
<text x="937.1" y="1565">−4</text><text x="1089.7" y="1565">−2</text><text x="1242.3" y="1565">0</text>
<text x="1394.9" y="1565">2</text><text x="1547.5" y="1565">4</text>
<text transform="translate(853.5,1505.2) rotate(-90)">0</text>
<text transform="translate(853.5,1408.4) rotate(-90)">2</text>
<text transform="translate(853.5,1311.6) rotate(-90)">4</text>
<text transform="translate(853.5,1214.8) rotate(-90)">6</text>
<text transform="translate(853.5,1118) rotate(-90)">8</text>
<text transform="translate(853.5,1021.2) rotate(-90)">10</text>
<text transform="translate(853.5,924.4) rotate(-90)">12</text>
<text x="1242.3" y="1615">logFC</text>
<text transform="translate(806,1215) rotate(-90)">adj.P.Val</text>
</g>
</svg>

<!-- Heatmap A annotation -->
<div class="hm" style="left:89px;top:99px;width:435px;height:16px;grid-template-columns:repeat(10,1fr);">
<hr class=s><hr class=s><hr class=s><hr class=s><hr class=s><hr class=t><hr class=t><hr class=t><hr class=t><hr class=t>
</div>
<!-- Heatmap A -->
<div class="hm" style="left:89px;top:119px;width:435px;height:584px;grid-template-columns:repeat(10,1fr);grid-template-rows:repeat(20,1fr);">
<hr class=c><hr class=e><hr class=e><hr class=e><hr class=d><hr class=g><hr class=h><hr class=h><hr class=h><hr class=i>
<hr class=e><hr class=f><hr class=f><hr class=f><hr class=f><hr class=i><hr class=h><hr class=h><hr class=j><hr class=h>
<hr class=e><hr class=e><hr class=d><hr class=d><hr class=d><hr class=9><hr class=9><hr class=w><hr class=7><hr class=9>
<hr class=f><hr class=d><hr class=d><hr class=d><hr class=f><hr class=b><hr class=w><hr class=w><hr class=9><hr class=9>
<hr class=8><hr class=c><hr class=c><hr class=e><hr class=d><hr class=3><hr class=4><hr class=3><hr class=5><hr class=6>
<hr class=a><hr class=7><hr class=a><hr class=a><hr class=w><hr class=2><hr class=4><hr class=4><hr class=2><hr class=3>
<hr class=7><hr class=7><hr class=9><hr class=9><hr class=9><hr class=1><hr class=4><hr class=3><hr class=2><hr class=4>
<hr class=7><hr class=7><hr class=9><hr class=9><hr class=9><hr class=1><hr class=4><hr class=3><hr class=2><hr class=4>
<hr class=7><hr class=7><hr class=9><hr class=9><hr class=9><hr class=1><hr class=4><hr class=3><hr class=2><hr class=4>
<hr class=1><hr class=1><hr class=0><hr class=0><hr class=1><hr class=6><hr class=w><hr class=8><hr class=8><hr class=9>
<hr class=3><hr class=4><hr class=3><hr class=4><hr class=3><hr class=6><hr class=7><hr class=7><hr class=6><hr class=7>
<hr class=3><hr class=4><hr class=4><hr class=4><hr class=4><hr class=9><hr class=w><hr class=9><hr class=6><hr class=w>
<hr class=8><hr class=9><hr class=6><hr class=7><hr class=8><hr class=b><hr class=b><hr class=a><hr class=b><hr class=c>
<hr class=5><hr class=6><hr class=5><hr class=6><hr class=6><hr class=w><hr class=w><hr class=w><hr class=9><hr class=w>
<hr class=3><hr class=5><hr class=4><hr class=5><hr class=5><hr class=b><hr class=9><hr class=w><hr class=c><hr class=c>
<hr class=8><hr class=7><hr class=w><hr class=9><hr class=8><hr class=g><hr class=g><hr class=h><hr class=i><hr class=g>
<hr class=8><hr class=9><hr class=9><hr class=8><hr class=8><hr class=b><hr class=f><hr class=d><hr class=f><hr class=h>
<hr class=8><hr class=9><hr class=9><hr class=7><hr class=8><hr class=b><hr class=e><hr class=c><hr class=f><hr class=g>
<hr class=8><hr class=9><hr class=8><hr class=7><hr class=8><hr class=a><hr class=f><hr class=d><hr class=f><hr class=g>
<hr class=8><hr class=9><hr class=9><hr class=7><hr class=8><hr class=b><hr class=f><hr class=d><hr class=f><hr class=g>
</div>

<!-- Heatmap C annotation -->
<div class="hm" style="left:86px;top:912px;width:473px;height:16px;grid-template-columns:repeat(40,1fr);">
<hr class=s><hr class=s><hr class=s><hr class=s><hr class=s><hr class=s><hr class=s><hr class=s><hr class=s><hr class=s><hr class=s><hr class=s><hr class=s><hr class=s><hr class=s><hr class=s><hr class=s><hr class=s><hr class=s><hr class=s>
<hr class=t><hr class=t><hr class=t><hr class=t><hr class=t><hr class=t><hr class=t><hr class=t><hr class=t><hr class=t><hr class=t><hr class=t><hr class=t><hr class=t><hr class=t><hr class=t><hr class=t><hr class=t><hr class=t><hr class=t>
</div>
<!-- Heatmap C -->
<div class="hm" style="left:86px;top:932px;width:473px;height:587px;grid-template-columns:repeat(40,1fr);grid-template-rows:repeat(20,1fr);">
<hr class=c><hr class=d><hr class=d><hr class=f><hr class=e><hr class=f><hr class=g><hr class=e><hr class=g><hr class=f><hr class=f><hr class=d><hr class=e><hr class=e><hr class=d><hr class=f><hr class=g><hr class=f><hr class=e><hr class=f><hr class=c><hr class=c><hr class=w><hr class=b><hr class=c><hr class=c><hr class=b><hr class=a><hr class=b><hr class=b><hr class=c><hr class=b><hr class=a><hr class=c><hr class=w><hr class=b><hr class=b><hr class=b><hr class=a><hr class=c>
<hr class=g><hr class=f><hr class=f><hr class=g><hr class=f><hr class=f><hr class=f><hr class=f><hr class=f><hr class=f><hr class=e><hr class=e><hr class=f><hr class=g><hr class=g><hr class=f><hr class=g><hr class=f><hr class=f><hr class=f><hr class=i><hr class=j><hr class=i><hr class=h><hr class=h><hr class=g><hr class=i><hr class=h><hr class=g><hr class=i><hr class=g><hr class=h><hr class=i><hr class=h><hr class=g><hr class=h><hr class=h><hr class=g><hr class=j><hr class=i>
<hr class=5><hr class=6><hr class=4><hr class=8><hr class=7><hr class=7><hr class=5><hr class=5><hr class=5><hr class=7><hr class=5><hr class=4><hr class=6><hr class=5><hr class=6><hr class=7><hr class=8><hr class=4><hr class=6><hr class=5><hr class=5><hr class=1><hr class=1><hr class=2><hr class=1><hr class=2><hr class=1><hr class=1><hr class=2><hr class=2><hr class=1><hr class=1><hr class=1><hr class=2><hr class=1><hr class=1><hr class=1><hr class=2><hr class=1><hr class=1>
<hr class=4><hr class=3><hr class=5><hr class=9><hr class=7><hr class=7><hr class=7><hr class=3><hr class=9><hr class=6><hr class=6><hr class=6><hr class=6><hr class=5><hr class=5><hr class=6><hr class=4><hr class=4><hr class=3><hr class=3><hr class=5><hr class=0><hr class=1><hr class=3><hr class=1><hr class=1><hr class=0><hr class=0><hr class=1><hr class=1><hr class=1><hr class=1><hr class=0><hr class=1><hr class=1><hr class=0><hr class=1><hr class=0><hr class=1><hr class=1>
<hr class=1><hr class=1><hr class=3><hr class=1><hr class=1><hr class=2><hr class=1><hr class=2><hr class=2><hr class=1><hr class=2><hr class=1><hr class=1><hr class=3><hr class=1><hr class=2><hr class=1><hr class=1><hr class=2><hr class=3><hr class=4><hr class=3><hr class=5><hr class=5><hr class=3><hr class=5><hr class=5><hr class=3><hr class=5><hr class=2><hr class=4><hr class=6><hr class=4><hr class=5><hr class=4><hr class=5><hr class=4><hr class=4><hr class=3><hr class=3>
<hr class=1><hr class=0><hr class=1><hr class=1><hr class=1><hr class=1><hr class=0><hr class=1><hr class=0><hr class=0><hr class=1><hr class=1><hr class=0><hr class=1><hr class=1><hr class=0><hr class=0><hr class=1><hr class=0><hr class=1><hr class=3><hr class=1><hr class=3><hr class=2><hr class=3><hr class=2><hr class=3><hr class=4><hr class=3><hr class=4><hr class=3><hr class=4><hr class=3><hr class=3><hr class=4><hr class=4><hr class=3><hr class=4><hr class=2><hr class=3>
<hr class=1><hr class=1><hr class=1><hr class=1><hr class=1><hr class=1><hr class=2><hr class=1><hr class=1><hr class=1><hr class=1><hr class=2><hr class=1><hr class=1><hr class=0><hr class=1><hr class=1><hr class=1><hr class=2><hr class=1><hr class=3><hr class=2><hr class=4><hr class=3><hr class=3><hr class=3><hr class=4><hr class=3><hr class=4><hr class=4><hr class=3><hr class=4><hr class=4><hr class=3><hr class=4><hr class=3><hr class=4><hr class=5><hr class=3><hr class=2>
<hr class=4><hr class=1><hr class=2><hr class=0><hr class=1><hr class=1><hr class=1><hr class=1><hr class=0><hr class=2><hr class=1><hr class=2><hr class=1><hr class=2><hr class=2><hr class=1><hr class=3><hr class=3><hr class=2><hr class=1><hr class=6><hr class=4><hr class=5><hr class=4><hr class=4><hr class=5><hr class=7><hr class=5><hr class=8><hr class=8><hr class=a><hr class=8><hr class=8><hr class=9><hr class=1><hr class=6><hr class=7><hr class=5><hr class=4><hr class=5>
<hr class=3><hr class=3><hr class=4><hr class=3><hr class=2><hr class=3><hr class=3><hr class=4><hr class=3><hr class=2><hr class=3><hr class=4><hr class=3><hr class=3><hr class=4><hr class=3><hr class=4><hr class=3><hr class=4><hr class=4><hr class=5><hr class=4><hr class=8><hr class=7><hr class=7><hr class=8><hr class=7><hr class=4><hr class=9><hr class=7><hr class=8><hr class=8><hr class=w><hr class=5><hr class=a><hr class=4><hr class=6><hr class=6><hr class=5><hr class=6>
<hr class=3><hr class=2><hr class=3><hr class=3><hr class=3><hr class=3><hr class=2><hr class=4><hr class=3><hr class=1><hr class=3><hr class=2><hr class=3><hr class=3><hr class=3><hr class=2><hr class=1><hr class=3><hr class=3><hr class=2><hr class=6><hr class=3><hr class=6><hr class=5><hr class=5><hr class=5><hr class=6><hr class=6><hr class=5><hr class=5><hr class=3><hr class=8><hr class=6><hr class=5><hr class=5><hr class=6><hr class=5><hr class=8><hr class=7><hr class=4>
<hr class=4><hr class=4><hr class=4><hr class=4><hr class=3><hr class=4><hr class=4><hr class=5><hr class=3><hr class=3><hr class=3><hr class=4><hr class=4><hr class=4><hr class=3><hr class=3><hr class=2><hr class=4><hr class=4><hr class=4><hr class=4><hr class=4><hr class=5><hr class=4><hr class=5><hr class=5><hr class=6><hr class=5><hr class=5><hr class=6><hr class=6><hr class=6><hr class=7><hr class=5><hr class=5><hr class=6><hr class=5><hr class=6><hr class=4><hr class=5>
<hr class=2><hr class=3><hr class=1><hr class=6><hr class=4><hr class=4><hr class=4><hr class=2><hr class=2><hr class=3><hr class=3><hr class=3><hr class=4><hr class=4><hr class=4><hr class=4><hr class=3><hr class=4><hr class=4><hr class=3><hr class=8><hr class=7><hr class=7><hr class=7><hr class=a><hr class=c><hr class=b><hr class=w><hr class=w><hr class=w><hr class=c><hr class=a><hr class=c><hr class=f><hr class=d><hr class=d><hr class=c><hr class=c><hr class=b><hr class=d>
<hr class=3><hr class=4><hr class=3><hr class=6><hr class=5><hr class=5><hr class=5><hr class=3><hr class=4><hr class=4><hr class=4><hr class=4><hr class=5><hr class=5><hr class=6><hr class=5><hr class=4><hr class=5><hr class=5><hr class=4><hr class=9><hr class=7><hr class=8><hr class=7><hr class=b><hr class=d><hr class=c><hr class=a><hr class=w><hr class=w><hr class=c><hr class=b><hr class=d><hr class=f><hr class=d><hr class=e><hr class=d><hr class=d><hr class=c><hr class=e>
<hr class=3><hr class=4><hr class=2><hr class=7><hr class=5><hr class=5><hr class=5><hr class=3><hr class=4><hr class=4><hr class=4><hr class=5><hr class=5><hr class=5><hr class=5><hr class=5><hr class=4><hr class=5><hr class=5><hr class=5><hr class=9><hr class=8><hr class=8><hr class=8><hr class=b><hr class=d><hr class=d><hr class=b><hr class=b><hr class=a><hr class=d><hr class=c><hr class=d><hr class=f><hr class=e><hr class=e><hr class=d><hr class=d><hr class=d><hr class=e>
<hr class=3><hr class=4><hr class=2><hr class=6><hr class=5><hr class=5><hr class=5><hr class=3><hr class=4><hr class=4><hr class=4><hr class=5><hr class=5><hr class=5><hr class=5><hr class=5><hr class=4><hr class=5><hr class=5><hr class=5><hr class=9><hr class=7><hr class=8><hr class=8><hr class=b><hr class=d><hr class=d><hr class=b><hr class=b><hr class=a><hr class=d><hr class=c><hr class=d><hr class=g><hr class=e><hr class=e><hr class=d><hr class=d><hr class=d><hr class=e>
<hr class=6><hr class=8><hr class=7><hr class=7><hr class=9><hr class=8><hr class=9><hr class=w><hr class=4><hr class=3><hr class=7><hr class=8><hr class=8><hr class=9><hr class=4><hr class=5><hr class=5><hr class=5><hr class=6><hr class=5><hr class=f><hr class=f><hr class=e><hr class=b><hr class=b><hr class=b><hr class=b><hr class=f><hr class=e><hr class=f><hr class=f><hr class=f><hr class=f><hr class=f><hr class=f><hr class=f><hr class=i><hr class=i><hr class=f><hr class=e>
<hr class=4><hr class=5><hr class=4><hr class=9><hr class=6><hr class=6><hr class=6><hr class=4><hr class=4><hr class=4><hr class=5><hr class=5><hr class=6><hr class=6><hr class=6><hr class=7><hr class=5><hr class=6><hr class=6><hr class=6><hr class=a><hr class=9><hr class=a><hr class=w><hr class=e><hr class=f><hr class=f><hr class=c><hr class=b><hr class=b><hr class=f><hr class=e><hr class=f><hr class=h><hr class=g><hr class=g><hr class=f><hr class=f><hr class=e><hr class=h>
<hr class=3><hr class=5><hr class=6><hr class=b><hr class=a><hr class=9><hr class=9><hr class=a><hr class=a><hr class=w><hr class=8><hr class=8><hr class=7><hr class=9><hr class=9><hr class=b><hr class=a><hr class=w><hr class=9><hr class=w><hr class=4><hr class=4><hr class=4><hr class=3><hr class=6><hr class=3><hr class=4><hr class=2><hr class=3><hr class=5><hr class=4><hr class=3><hr class=3><hr class=4><hr class=4><hr class=4><hr class=3><hr class=2><hr class=3><hr class=5>
<hr class=a><hr class=7><hr class=9><hr class=a><hr class=d><hr class=c><hr class=c><hr class=w><hr class=b><hr class=a><hr class=c><hr class=w><hr class=b><hr class=b><hr class=d><hr class=c><hr class=d><hr class=d><hr class=c><hr class=a><hr class=9><hr class=8><hr class=6><hr class=8><hr class=a><hr class=7><hr class=7><hr class=6><hr class=7><hr class=7><hr class=8><hr class=7><hr class=6><hr class=6><hr class=8><hr class=8><hr class=6><hr class=7><hr class=8><hr class=9>
<hr class=9><hr class=a><hr class=b><hr class=b><hr class=b><hr class=c><hr class=c><hr class=w><hr class=c><hr class=c><hr class=b><hr class=a><hr class=a><hr class=w><hr class=w><hr class=a><hr class=b><hr class=b><hr class=b><hr class=b><hr class=w><hr class=9><hr class=8><hr class=9><hr class=w><hr class=w><hr class=9><hr class=9><hr class=8><hr class=9><hr class=w><hr class=9><hr class=9><hr class=9><hr class=9><hr class=9><hr class=9><hr class=9><hr class=8><hr class=9>
</div>
</body></html>
